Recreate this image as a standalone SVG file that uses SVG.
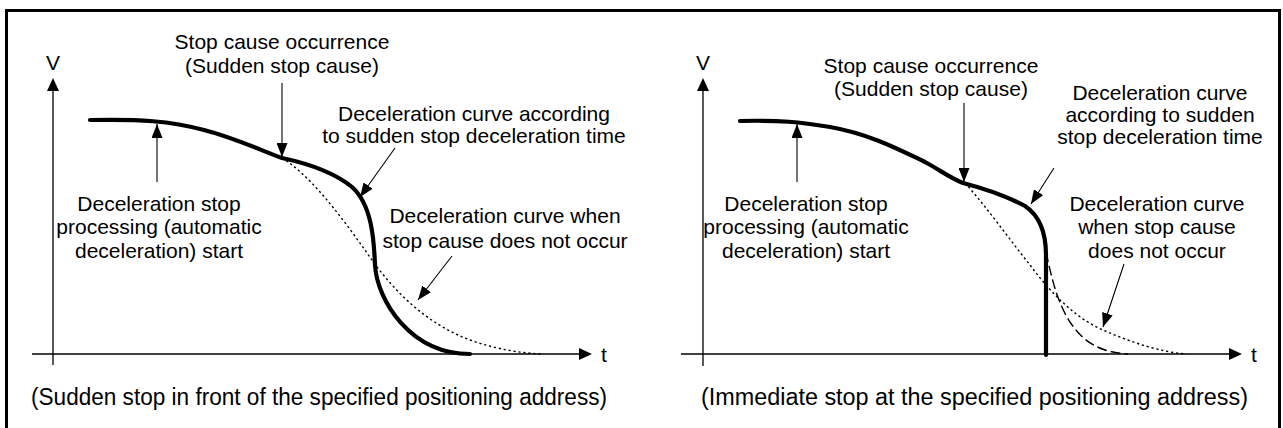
<svg xmlns="http://www.w3.org/2000/svg" width="1283" height="428" viewBox="0 0 1283 428">
<defs>
<style>
text{font-family:"Liberation Sans",Arial,sans-serif;font-size:21px;fill:#000}
.c{text-anchor:middle}
.cap{font-size:23px}
.ax{stroke:#000;stroke-width:1.3;fill:none}
.ptr{stroke:#000;stroke-width:1.1;fill:none;marker-end:url(#ah)}
.thick{stroke:#000;stroke-width:4.2;fill:none;stroke-linecap:round;stroke-linejoin:round}
.dot{stroke:#000;stroke-width:1.4;fill:none;stroke-dasharray:2.2 2.8}
.dash{stroke:#000;stroke-width:1.4;fill:none;stroke-dasharray:10 4}
.head{fill:#000}
</style>
<marker id="ah" viewBox="0 0 14 11" refX="14" refY="5.5" markerWidth="14" markerHeight="11" markerUnits="userSpaceOnUse" orient="auto">
<path d="M0,0 L14,5.5 L0,11 Z" fill="#000"/>
</marker>
</defs>
<rect width="1283" height="428" fill="#fff"/>
<path d="M6.5,430 V10.5 H1279.5 V430" fill="none" stroke="#000" stroke-width="3"/>

<g id="left-axes">
<line class="ax" x1="53" y1="365" x2="53" y2="88"/>
<path class="head" d="M53,78 L47,91 L59,91 Z"/>
<line class="ax" x1="32" y1="354" x2="582" y2="354"/>
<path class="head" d="M592,354 L579,348 L579,360 Z"/>
<text class="c" x="53" y="70">V</text>
<text x="601" y="362">t</text>
</g>
<g id="left-curves">
<path class="dot" d="M282,158 C310,175 340,215 365,250 C395,295 430,325 470,340 C495,349 520,353 542,354"/>
<path class="thick" d="M90,120 C140,119 170,121 204,130 C235,138 260,150 282,158 C310,164 335,173 352,187 C372,205 374,240 375,265 C377,300 410,354 470,354"/>
</g>
<g id="left-labels">
<text class="c" x="282" y="49">Stop cause occurrence</text>
<text class="c" x="282" y="73">(Sudden stop cause)</text>
<text class="c" x="474" y="121">Deceleration curve according</text>
<text class="c" x="474" y="143">to sudden stop deceleration time</text>
<text class="c" x="159" y="211">Deceleration stop</text>
<text class="c" x="159" y="234">processing (automatic</text>
<text class="c" x="159" y="258">deceleration) start</text>
<text class="c" x="505" y="223">Deceleration curve when</text>
<text class="c" x="505" y="248">stop cause does not occur</text>
<text class="cap" x="31" y="405" textLength="576" lengthAdjust="spacingAndGlyphs">(Sudden stop in front of the specified positioning address)</text>
</g>
<g id="left-connectors">
<line class="ptr" x1="282" y1="83" x2="282" y2="157"/>
<line class="ptr" x1="157" y1="182" x2="157" y2="124"/>
<line class="ptr" x1="395" y1="148" x2="360" y2="197"/>
<line class="ptr" x1="452" y1="256" x2="418" y2="300"/>
</g>

<g id="right-axes">
<line class="ax" x1="703" y1="366" x2="703" y2="88"/>
<path class="head" d="M703,78 L697,91 L709,91 Z"/>
<line class="ax" x1="681" y1="354" x2="1230" y2="354"/>
<path class="head" d="M1242,354 L1229,348 L1229,360 Z"/>
<text class="c" x="703" y="70">V</text>
<text x="1251" y="362">t</text>
</g>
<g id="right-curves">
<path class="dot" d="M965,183 C985,205 1010,240 1030,265 C1050,292 1075,318 1103,330 C1130,342 1160,352 1186,354"/>
<path class="dash" d="M1046,252 C1052,280 1058,305 1072,325 C1085,343 1100,352 1128,354"/>
<path class="thick" d="M740,121 C780,120 800,122 830,127 C870,134 900,150 925,162 C940,170 950,178 963,183 C990,190 1010,198 1025,206 C1040,216 1046,235 1046,255 L1046,355"/>
</g>
<g id="right-labels">
<text class="c" x="931" y="73">Stop cause occurrence</text>
<text class="c" x="931" y="96">(Sudden stop cause)</text>
<text class="c" x="1160" y="100">Deceleration curve</text>
<text class="c" x="1160" y="122">according to sudden</text>
<text class="c" x="1160" y="144">stop deceleration time</text>
<text class="c" x="806" y="211">Deceleration stop</text>
<text class="c" x="806" y="234">processing (automatic</text>
<text class="c" x="806" y="258">deceleration) start</text>
<text class="c" x="1157" y="211">Deceleration curve</text>
<text class="c" x="1157" y="234">when stop cause</text>
<text class="c" x="1157" y="258">does not occur</text>
<text class="cap" x="701" y="405" textLength="547" lengthAdjust="spacingAndGlyphs">(Immediate stop at the specified positioning address)</text>
</g>
<g id="right-connectors">
<line class="ptr" x1="964" y1="103" x2="964" y2="182"/>
<line class="ptr" x1="797" y1="182" x2="797" y2="124"/>
<line class="ptr" x1="1054" y1="168" x2="1031" y2="204"/>
<line class="ptr" x1="1124" y1="264" x2="1103" y2="327"/>
</g>
</svg>
